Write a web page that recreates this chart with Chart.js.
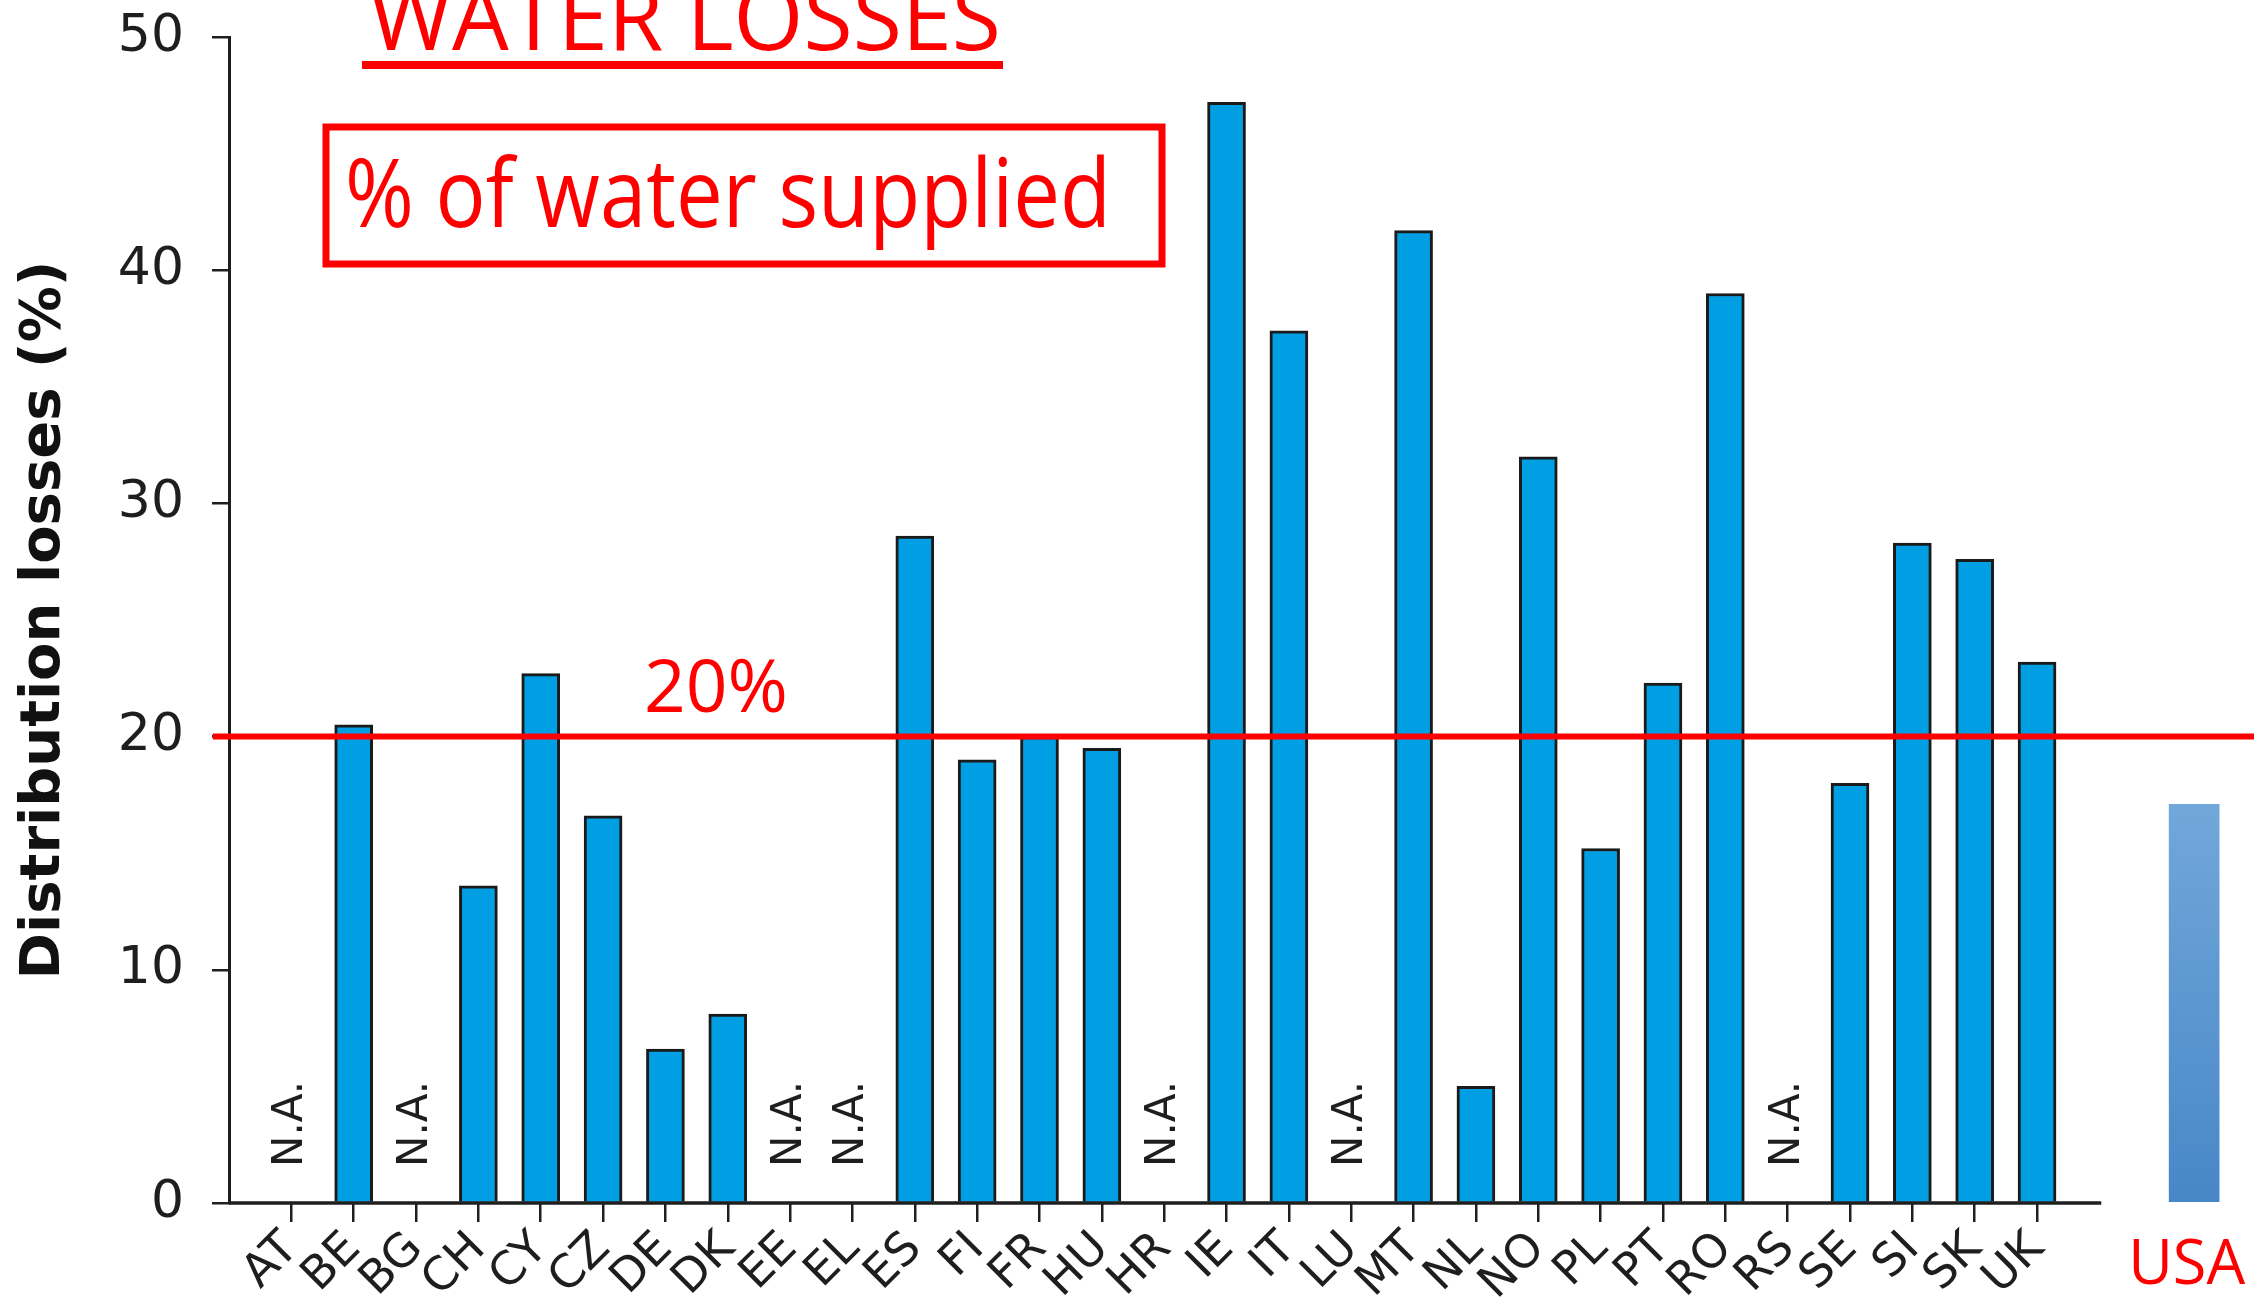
<!DOCTYPE html>
<html>
<head>
<meta charset="utf-8">
<title>Water losses</title>
<script src="https://cdn.jsdelivr.net/npm/chart.js@4.4.1/dist/chart.umd.min.js"></script>
<style>
  html, body { margin: 0; padding: 0; background: #fff; }
  canvas { display: block; }
</style>
</head>
<body>
<canvas id="lossChart" width="2254" height="1301"></canvas>
<script>
// data (null = N.A.)
const countries = ['AT', 'BE', 'BG', 'CH', 'CY', 'CZ', 'DE', 'DK', 'EE', 'EL', 'ES', 'FI', 'FR', 'HU', 'HR',
                   'IE', 'IT', 'LU', 'MT', 'NL', 'NO', 'PL', 'PT', 'RO', 'RS', 'SE', 'SI', 'SK', 'UK'];
const losses = [null, 20.5, null, 13.6, 22.7, 16.6, 6.6, 8.1, null, null, 28.6, 19.0, 20.0, 19.5, null,
                47.2, 37.4, null, 41.7, 5.0, 32.0, 15.2, 22.3, 39.0, null, 18.0, 28.3, 27.6, 23.2];
const usaLabel = 'USA';
const usaLoss = 17.1;
const threshold = 20;
const naText = 'N.A.';
const titleText = 'WATER LOSSES';
const boxText = '% of water supplied';
const yTitle = 'Distribution losses (%)';

// layout on the index axis
const xMin = -1;
const xMax = 31.48;
const axisEnd = 29.03;
const usaSlot = 30.52;
const lineStart = -1.26;

const RED = '#ff0000';
const INK = '#1e1e1e';

function fitText(ctx, text, x, baseline, width, size, family) {
    ctx.save();
    ctx.font = size + 'px ' + family;
    ctx.textAlign = 'left';
    ctx.textBaseline = 'alphabetic';
    const w = ctx.measureText(text).width;
    ctx.translate(x, baseline);
    ctx.scale(width / w, 1);
    ctx.fillText(text, 0, 0);
    ctx.restore();
}

const notes = {
    id: 'notes',
    afterDatasetsDraw(chart) {
        const ctx = chart.ctx;
        const xs = chart.scales.x;
        const ys = chart.scales.y;
        const base = ys.getPixelForValue(0);

        // N.A. markers
        ctx.save();
        ctx.fillStyle = INK;
        ctx.font = '42px "DejaVu Sans"';
        ctx.textAlign = 'left';
        ctx.textBaseline = 'middle';
        losses.forEach(function(v, i) {
            if (v !== null) return;
            ctx.save();
            ctx.translate(xs.getPixelForValue(i), base - 36);
            ctx.rotate(-Math.PI / 2);
            ctx.fillText(naText, 0, 0);
            ctx.restore();
        });
        ctx.restore();

        ctx.save();
        ctx.fillStyle = RED;
        // title + underline
        fitText(ctx, titleText, 369, 50, 632, 92, '"Open Sans"');
        ctx.fillRect(362, 61, 641, 8);
        // boxed note
        ctx.strokeStyle = RED;
        ctx.lineWidth = 7;
        ctx.strokeRect(326, 127, 836, 137);
        fitText(ctx, boxText, 345, 227, 766, 95, '"Open Sans"');
        // threshold label
        fitText(ctx, threshold + '%', 644, ys.getPixelForValue(threshold) - 25, 144, 74, '"Open Sans"');
        // USA label
        const ux = xs.getPixelForValue(usaSlot);
        fitText(ctx, usaLabel, ux - 66, base + 81, 117, 63, '"Open Sans"');
        ctx.restore();
    }
};

const ctx = document.getElementById('lossChart').getContext('2d');
new Chart(ctx, {
    type: 'bar',
    data: {
        datasets: [{
            type: 'line',
            data: [{ x: lineStart, y: threshold }, { x: xMax + 1, y: threshold }],
            borderColor: RED,
            borderWidth: 6,
            pointRadius: 0,
            clip: false,
            order: 0
        }, {
            type: 'line',
            data: [{ x: xMin, y: 0 }, { x: axisEnd, y: 0 }],
            borderColor: INK,
            borderWidth: 3.5,
            pointRadius: 0,
            clip: false,
            order: 1
        }, {
            data: countries.map((c, i) => ({ x: i, y: losses[i] })),
            backgroundColor: '#009fe3',
            borderColor: '#1a1a1a',
            borderWidth: 3,
            barThickness: 38,
            grouped: false,
            order: 2
        }, {
            data: [{ x: usaSlot, y: usaLoss }],
            backgroundColor: function(c) {
                const chart = c.chart;
                if (!chart.chartArea) return '#5b9bd5';
                const y = chart.scales.y;
                const g = chart.ctx.createLinearGradient(0, y.getPixelForValue(usaLoss), 0, y.getPixelForValue(0));
                g.addColorStop(0, '#72a7da');
                g.addColorStop(1, '#4787c7');
                return g;
            },
            borderWidth: 0,
            barThickness: 50,
            grouped: false,
            order: 3
        }]
    },
    options: {
        responsive: false,
        animation: false,
        devicePixelRatio: 1,
        layout: { padding: { top: 37, right: 0, left: 0, bottom: 0 } },
        plugins: {
            legend: { display: false },
            tooltip: { enabled: false }
        },
        scales: {
            x: {
                type: 'linear',
                min: xMin,
                max: xMax,
                offset: false,
                border: { display: false },
                grid: {
                    offset: false,
                    drawOnChartArea: false,
                    drawTicks: true,
                    tickLength: 19,
                    color: INK,
                    lineWidth: 2.5
                },
                afterBuildTicks: function(scale) {
                    scale.ticks = countries.map((c, i) => ({ value: i }));
                },
                afterFit: function(scale) {
                    scale.height = 98;
                    scale.paddingLeft = 0;
                    scale.paddingRight = 0;
                },
                ticks: {
                    autoSkip: false,
                    minRotation: 45,
                    maxRotation: 45,
                    padding: 0,
                    color: INK,
                    font: { family: '"DejaVu Sans"', size: 46 },
                    callback: function(value, index) {
                        return countries[index];
                    }
                }
            },
            y: {
                min: 0,
                max: 50,
                border: { display: true, color: INK, width: 3 },
                grid: {
                    drawOnChartArea: false,
                    tickLength: 17,
                    color: INK,
                    lineWidth: 2.5
                },
                afterFit: function(scale) {
                    scale.width = 229;
                    scale.paddingTop = 0;
                    scale.paddingBottom = 0;
                },
                ticks: {
                    stepSize: 10,
                    padding: 28,
                    color: INK,
                    font: { family: '"DejaVu Sans"', size: 52 }
                },
                title: {
                    display: true,
                    text: yTitle,
                    color: '#111111',
                    padding: { top: 11, bottom: 0 },
                    font: { family: '"DejaVu Sans"', size: 56, weight: 'bold' }
                }
            }
        }
    },
    plugins: [notes]
});
</script>
</body>
</html>
